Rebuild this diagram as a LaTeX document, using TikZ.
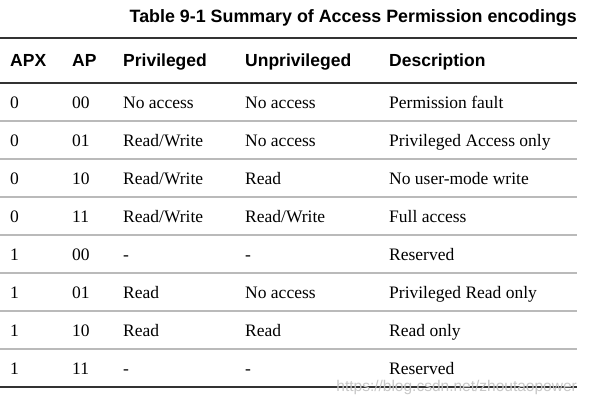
\documentclass[tikz,border=0pt]{standalone}
\usepackage{fontspec}
\setmainfont{Liberation Serif}
\setsansfont{Liberation Sans}
\begin{document}
\begin{tikzpicture}[x=1pt,y=-1pt,
  cell/.style={anchor=base west,inner sep=0pt,font=\fontsize{17.5}{21}\selectfont},
  head/.style={anchor=base west,inner sep=0pt,font=\sffamily\bfseries\fontsize{17.5}{21}\selectfont},
  title/.style={anchor=base east,inner sep=0pt,font=\sffamily\bfseries\fontsize{17.85}{21}\selectfont},
  darkrule/.style={draw=black!80,line width=1.3pt},
  lightrule/.style={draw=black!27,line width=1.1pt},
  wm/.style={anchor=base east,inner sep=0pt,text=black!22,font=\sffamily\fontsize{15.5}{18}\selectfont}]
\useasboundingbox (0,0) rectangle (591,405);
\node[title] (ttl) at (577,22) {Table 9-1 Summary of Access Permission encodings};
\draw[darkrule] (0,38) -- (577,38);
\node[head] (h1) at (10,66) {APX};
\node[head] (h2) at (72,66) {AP};
\node[head] (h3) at (123,66) {Privileged};
\node[head] (h4) at (245,66) {Unprivileged};
\node[head] (h5) at (389,66) {Description};
\draw[darkrule] (0,83) -- (577,83);
\foreach \i/\a/\b/\c/\d/\e in {
  1/0/00/No access/No access/Permission fault,
  2/0/01/Read\slash Write/No access/Privileged Access only,
  3/0/10/Read\slash Write/Read/No user-mode write,
  4/0/11/Read\slash Write/Read\slash Write/Full access,
  5/1/00/-/-/Reserved,
  6/1/01/Read/No access/Privileged Read only,
  7/1/10/Read/Read/Read only,
  8/1/11/-/-/Reserved}{
  \pgfmathsetmacro{\yb}{83+38*(\i-1)+25}
  \node[cell] (r\i c1) at (10,\yb) {\a};
  \node[cell] (r\i c2) at (72,\yb) {\b};
  \node[cell] (r\i c3) at (123,\yb) {\c};
  \node[cell] (r\i c4) at (245,\yb) {\d};
  \node[cell] (r\i c5) at (389,\yb) {\e};
}
\foreach \i in {1,...,7}{
  \draw[lightrule] (0,83+38*\i) -- (577,83+38*\i);
}
\draw[darkrule] (0,387) -- (577,387);
\node[wm] (wmk) at (577,391) {https://blog.csdn.net/zhoutaopower};
\end{tikzpicture}
\end{document}
